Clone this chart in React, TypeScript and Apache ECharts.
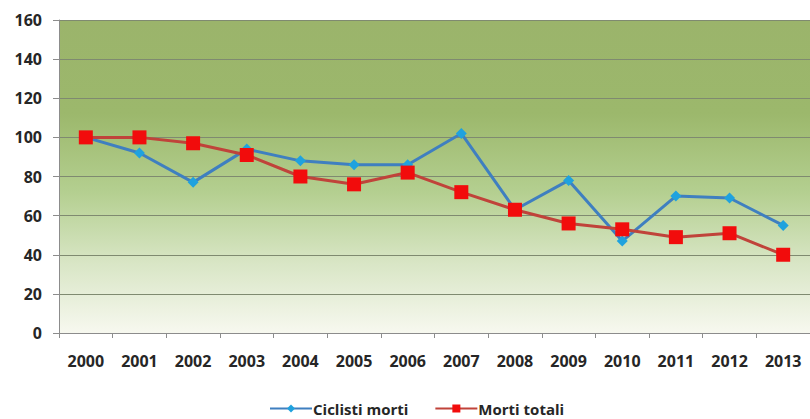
import React, { useEffect, useRef } from "react";
import * as echarts from "echarts";

const years = ["2000", "2001", "2002", "2003", "2004", "2005", "2006", "2007", "2008", "2009", "2010", "2011", "2012", "2013"];
const ciclistiMorti = [100, 92, 77, 94, 88, 86, 86, 102, 63, 78, 47, 70, 69, 55];
const mortiTotali = [100, 100, 97, 91, 80, 76, 82, 72, 63, 56, 53, 49, 51, 40];
const yTicks = { min: 0, max: 160, interval: 20 };

export default function App() {
  const ref = useRef<HTMLDivElement>(null);

  useEffect(() => {
    if (!ref.current) return;
    const chart = echarts.init(ref.current, null, { renderer: "svg" });
    const labelFont = {
      fontFamily: "'Open Sans', 'Liberation Sans', sans-serif",
      fontWeight: "bold" as const,
      fontSize: 16,
      color: "#262626",
    };
    chart.setOption({
      animation: false,
      backgroundColor: "#ffffff",
      grid: {
        left: 59,
        right: -9,
        top: 20,
        bottom: 86,
        show: true,
        borderWidth: 0,
        backgroundColor: new echarts.graphic.LinearGradient(0, 0, 0, 1, [
          { offset: 0, color: "#9bb46b" },
          { offset: 0.3, color: "#9cb86c" },
          { offset: 0.55, color: "#b4cf90" },
          { offset: 0.78, color: "#d9e6c6" },
          { offset: 1, color: "#f7f8ef" },
        ]),
      },
      legend: {
        bottom: -2,
        left: 264,
        itemWidth: 42,
        itemHeight: 10,
        itemGap: 26,
        textStyle: { ...labelFont, fontSize: 15, padding: [0, 0, 0, -4] },
        data: ["Ciclisti morti", "Morti totali"],
      },
      xAxis: {
        type: "category",
        data: years,
        boundaryGap: true,
        axisLine: { lineStyle: { color: "#8c8c8c", width: 1 } },
        axisTick: { show: true, length: 5, lineStyle: { color: "#8c8c8c" } },
        axisLabel: { ...labelFont, margin: 20 },
      },
      yAxis: {
        type: "value",
        min: yTicks.min,
        max: yTicks.max,
        interval: yTicks.interval,
        axisLine: { show: true, lineStyle: { color: "#8c8c8c", width: 1 } },
        axisTick: { show: true, length: 6, lineStyle: { color: "#8c8c8c" } },
        axisLabel: { ...labelFont, margin: 17 },
        splitLine: { lineStyle: { color: "#7f8a70", width: 1 } },
      },
      series: [
        {
          name: "Ciclisti morti",
          type: "line",
          data: ciclistiMorti,
          symbol: "diamond",
          symbolSize: 11,
          itemStyle: { color: "#1fa2de" },
          lineStyle: { color: "#3f7fc0", width: 3 },
          z: 2,
        },
        {
          name: "Morti totali",
          type: "line",
          data: mortiTotali,
          symbol: "rect",
          symbolSize: 14,
          itemStyle: { color: "#f20c0c" },
          lineStyle: { color: "#c0433a", width: 3 },
          z: 3,
        },
      ],
    });
    return () => chart.dispose();
  }, []);

  return (
    <div
      ref={ref}
      style={{ position: "fixed", left: 0, top: 0, width: 810, height: 419, overflow: "hidden" }}
    />
  );
}
